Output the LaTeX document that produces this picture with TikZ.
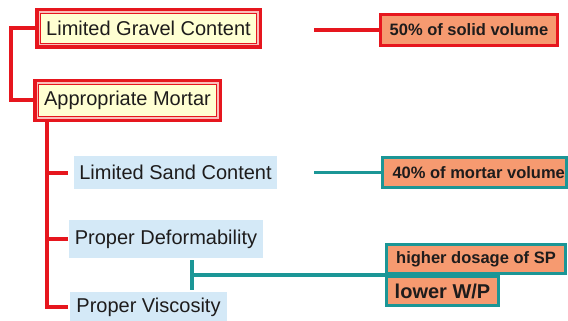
\documentclass[tikz,border=0pt]{standalone}
\usepackage{fontspec}
\setmainfont{Liberation Sans}
\usetikzlibrary{positioning}
\definecolor{cRed}{RGB}{230,22,30}
\definecolor{cPink}{RGB}{250,190,185}
\definecolor{cTeal}{RGB}{27,150,150}
\definecolor{cCream}{RGB}{255,255,210}
\definecolor{cSky}{RGB}{212,233,247}
\definecolor{cSalmon}{RGB}{246,154,112}
\definecolor{cInk}{RGB}{30,28,28}
\tikzset{
  every node/.style={text=cInk, inner sep=0pt},
  mainbox/.style={draw=cRed, line width=3.5pt, fill=cPink},
  maintext/.style={font=\fontsize{20}{23}\selectfont},
  subbox/.style={fill=cSky, font=\fontsize{20}{23}\selectfont},
  notebox/.style={fill=cSalmon, line width=3pt,
    font=\fontsize{16.5}{19}\selectfont\bfseries},
  redline/.style={draw=cRed, line width=4pt},
  tealline/.style={draw=cTeal, line width=3.5pt},
  innerframe/.style={draw=cRed, fill=cCream, line width=1.3pt},
}
\begin{document}
\begin{tikzpicture}[x=1pt, y=-1pt]
\useasboundingbox (0,0) rectangle (568,321);

% main requirements with double red frame
\node[mainbox, minimum width=223.5pt, minimum height=37.5pt] (gravel) at (148.5,28.5) {};
\node[mainbox, minimum width=185.5pt, minimum height=39.5pt] (mortar) at (127.5,100.5) {};
\draw[innerframe] ([shift={(5.5pt,-5.5pt)}]gravel.north west) rectangle ([shift={(-5.5pt,5.5pt)}]gravel.south east);
\draw[innerframe] ([shift={(5.5pt,-5.5pt)}]mortar.north west) rectangle ([shift={(-5.5pt,5.5pt)}]mortar.south east);
\node[maintext] (gravelText) at (gravel.center) {Limited Gravel Content};
\node[maintext] (mortarText) at (mortar.center) {Appropriate Mortar};

% mortar sub-requirements
\node[subbox, minimum width=203pt, minimum height=33pt] (sand) at (175.5,172.5) {Limited Sand Content};
\node[subbox, minimum width=194pt, minimum height=38pt] (deform) at (166,239) {Proper Deformability};
\node[subbox, minimum width=157pt, minimum height=30pt] (visc) at (148.5,307) {Proper Viscosity};

% notes on the right
\node[notebox, draw=cRed, minimum width=177pt, minimum height=31pt] (solid) at (469,30) {50\% of solid volume};
\node[notebox, draw=cTeal, minimum width=184pt, minimum height=30pt] (mvol) at (474.5,172.5) {\hspace*{8.5pt}40\% of mortar volume};
\node[notebox, draw=cTeal, minimum width=179pt, minimum height=29pt] (sp) at (476,259) {higher dosage of SP};
\node[notebox, draw=cTeal, minimum width=112pt, minimum height=29pt, font=\fontsize{20}{23}\selectfont\bfseries] (wp) at (442.5,291) {lower W/P};

% red tree
\draw[redline] (gravel.west) -- ++(-24,0) |- (mortar.west);
\coordinate (trunk) at ([xshift=14pt]mortar.south west);
\draw[redline] (trunk) |- ([xshift=-2pt]visc.west);
\draw[redline] (trunk |- sand.west) -- ([xshift=-6pt]sand.west);
\draw[redline] (trunk |- deform.west) -- ([xshift=-1pt]deform.west);

% note connectors
\coordinate (solidEnd) at (314,30);
\draw[redline] (solidEnd) -- (solid.west);
\coordinate (mvolEnd) at (314,172.5);
\draw[tealline] (mvolEnd) -- (mvol.west);
\coordinate (bTop) at (192,260);
\coordinate (bBot) at (192,290);
\draw[tealline] (bTop) -- (bBot);
\draw[tealline] (bTop |- sp.south west) -- (sp.south west);
\end{tikzpicture}
\end{document}
